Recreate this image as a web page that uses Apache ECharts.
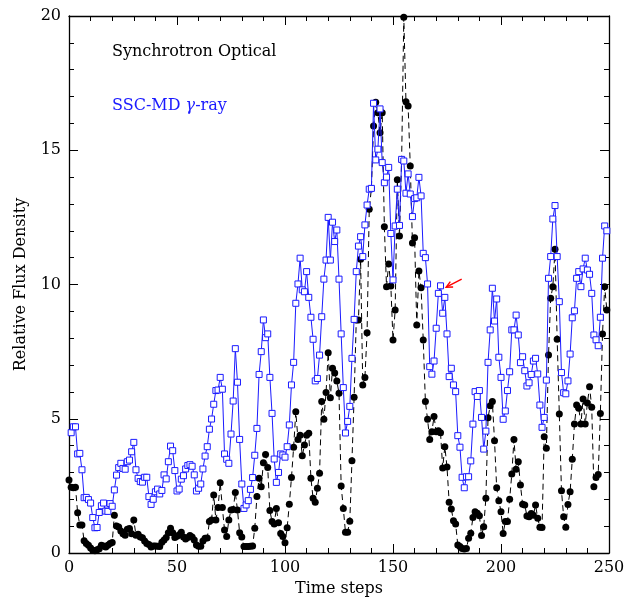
<!DOCTYPE html>
<html>
<head>
<meta charset="utf-8">
<script src="https://cdn.jsdelivr.net/npm/echarts@6/dist/echarts.min.js"></script>
<style>html,body{margin:0;padding:0;background:#fff}#c{width:626px;height:597px}</style>
</head>
<body>
<div id="c"></div>
<script>
// Time steps axis ticks
const xTicks = [0, 50, 100, 150, 200, 250];
const yTicks = [0, 5, 10, 15, 20];

// Synchrotron Optical (black), step 0..249
const opticalValues = [
2.72,2.45,2.43,2.45,1.50,1.04,1.04,0.46,0.35,0.29,
0.19,0.10,0.08,0.12,0.16,0.29,0.26,0.22,0.29,0.35,
0.39,1.41,1.01,0.97,0.82,0.72,0.66,0.88,0.91,0.72,
1.23,0.66,0.70,0.60,0.57,0.45,0.35,0.32,0.22,0.26,
0.26,0.25,0.24,0.40,0.48,0.58,0.75,0.92,0.75,0.58,
0.62,0.68,0.77,0.60,0.52,0.58,0.65,0.60,0.48,0.30,
0.25,0.25,0.45,0.55,0.56,1.17,1.23,2.16,1.23,1.69,
2.62,1.69,0.86,0.61,1.23,1.60,1.62,2.25,1.60,0.75,
0.60,0.24,0.24,0.24,0.25,0.26,0.92,2.10,2.78,2.47,
3.36,3.67,3.18,1.58,1.17,1.08,1.66,1.13,0.73,0.61,
0.38,0.94,1.82,2.81,3.94,5.26,4.23,4.39,3.62,4.02,
4.39,4.46,2.78,2.04,1.89,2.41,2.97,5.64,4.98,5.98,
7.46,5.78,6.88,6.70,6.41,5.95,2.50,1.66,0.77,0.77,
1.18,3.44,5.80,8.68,8.68,10.94,6.26,6.54,8.20,12.80,
13.58,15.90,16.79,16.40,15.65,16.40,12.15,9.92,10.76,9.94,
7.93,9.05,13.90,11.81,14.64,19.95,16.81,16.65,14.41,11.55,
11.74,8.49,10.50,9.88,7.93,5.64,4.98,4.23,4.52,5.08,
4.52,4.55,4.48,3.17,3.96,3.20,1.89,1.64,1.20,1.08,
0.30,0.24,0.17,0.15,0.17,0.55,0.74,1.32,1.54,1.48,
1.39,0.65,0.98,2.04,5.04,5.48,5.64,4.18,2.43,1.95,
1.54,0.73,1.17,1.17,2.00,2.94,4.23,3.12,3.40,2.53,
1.82,1.79,1.38,1.35,1.47,1.41,1.79,1.29,0.96,0.95,
4.33,3.90,7.37,9.49,9.92,11.31,7.96,5.18,2.32,1.35,
0.96,1.81,2.28,3.49,4.80,5.51,5.39,4.80,5.74,4.80,
5.59,6.19,5.43,2.47,2.81,2.92,5.20,8.16,9.92,9.05
];

// SSC-MD gamma-ray (blue), step 0..249 (no point at step 0)
const gammaValues = [
null,4.48,4.70,4.70,3.69,3.71,3.10,2.06,2.07,1.99,
1.86,1.32,0.94,0.95,1.51,1.76,1.86,1.56,1.55,1.84,
1.74,2.35,2.90,3.18,3.34,3.15,3.12,3.40,3.46,3.77,
4.12,3.10,2.78,2.66,2.64,2.82,2.82,2.10,1.81,2.00,
2.28,2.38,2.20,2.33,2.91,2.76,3.40,3.98,3.81,3.07,
2.31,2.38,2.75,2.88,3.13,3.26,3.29,3.23,2.91,2.31,
2.41,2.57,3.13,3.61,3.96,4.61,4.99,5.54,6.05,6.07,
6.54,6.10,3.69,3.49,3.34,4.43,5.66,7.61,6.36,4.23,
2.57,1.66,1.79,1.95,2.37,2.81,3.64,4.64,6.65,7.50,
8.68,8.02,8.16,6.54,5.20,3.50,2.63,3.00,3.69,3.65,
3.57,3.96,4.77,6.26,7.10,9.30,10.02,10.98,9.80,9.73,
10.48,9.52,8.78,7.96,6.41,6.50,7.37,8.80,10.20,10.91,
12.50,10.91,12.32,11.60,12.03,10.20,8.16,6.16,4.47,4.90,
5.46,7.25,8.70,10.48,11.43,11.78,11.04,12.22,12.96,13.55,
13.58,16.75,14.64,15.04,16.54,14.54,13.79,14.00,14.36,11.90,
10.17,12.18,13.55,12.20,14.66,14.60,13.40,14.12,13.37,12.53,
13.20,13.23,13.99,13.30,11.16,11.00,10.02,6.94,6.66,7.15,
8.37,9.67,9.95,8.93,9.52,8.16,6.57,6.88,6.26,6.01,
4.37,3.94,2.82,2.43,2.84,2.84,3.43,4.80,6.01,5.83,
6.05,5.05,3.87,4.54,7.10,8.31,9.86,8.64,9.46,7.29,
6.54,4.98,5.29,6.05,6.75,8.31,8.31,8.86,8.12,7.09,
7.31,6.79,6.22,6.34,6.65,7.15,7.25,6.67,5.51,4.68,
5.05,6.44,10.23,11.04,12.44,12.94,11.04,9.36,6.72,5.97,
5.93,6.41,7.41,8.76,9.02,10.23,10.48,9.92,10.58,10.98,
10.54,10.38,9.67,8.12,7.94,7.72,8.78,10.98,12.18,12.00
];

// red arrow pointing at the gamma-ray point near step 172: [tailX, tailY, headX, headY]
const arrowData = [[181.8, 10.2, 174.6, 9.9]];

const FONT = 'DejaVu Serif';
const BLUE = '#1a1aff';

function toPairs(arr) {
  const out = [];
  arr.forEach((v, i) => { if (v !== null) out.push([i, v]); });
  return out;
}

const chart = echarts.init(document.getElementById('c'), null, {renderer: 'canvas'});

function xAxisDef(pos, showLabel) {
  return {
    type: 'value', position: pos, min: xTicks[0], max: xTicks[xTicks.length - 1],
    interval: xTicks[1] - xTicks[0],
    axisLine: {show: true, onZero: false, lineStyle: {color: '#000', width: 1.3}},
    axisTick: {show: true, inside: true, length: 9, lineStyle: {color: '#000', width: 1}},
    minorTick: {show: true, splitNumber: 5, length: 5, lineStyle: {color: '#000', width: 1}},
    splitLine: {show: false},
    axisLabel: {show: showLabel, color: '#000', fontFamily: FONT, fontSize: 16, margin: 7},
    name: showLabel ? 'Time steps' : '',
    nameLocation: 'middle', nameGap: 28,
    nameTextStyle: {color: '#000', fontFamily: FONT, fontSize: 16}
  };
}
function yAxisDef(pos, showLabel) {
  return {
    type: 'value', position: pos, min: yTicks[0], max: yTicks[yTicks.length - 1],
    interval: yTicks[1] - yTicks[0],
    axisLine: {show: true, onZero: false, lineStyle: {color: '#000', width: 1.3}},
    axisTick: {show: true, inside: true, length: 9, lineStyle: {color: '#000', width: 1}},
    minorTick: {show: true, splitNumber: 5, length: 5, lineStyle: {color: '#000', width: 1}},
    splitLine: {show: false},
    axisLabel: {show: showLabel, color: '#000', fontFamily: FONT, fontSize: 16, margin: 8},
    name: showLabel ? 'Relative Flux Density' : '',
    nameLocation: 'middle', nameGap: 40, nameRotate: 90,
    nameTextStyle: {color: '#000', fontFamily: FONT, fontSize: 16}
  };
}

function renderArrow(params, api) {
  const p0 = api.coord([api.value(0), api.value(1)]);
  const p1 = api.coord([api.value(2), api.value(3)]);
  const ang = Math.atan2(p1[1] - p0[1], p1[0] - p0[0]);
  const L = 7, a = Math.PI / 7;
  const h1 = [p1[0] - L * Math.cos(ang - a), p1[1] - L * Math.sin(ang - a)];
  const h2 = [p1[0] - L * Math.cos(ang + a), p1[1] - L * Math.sin(ang + a)];
  const st = {stroke: '#ff0000', lineWidth: 1.4, fill: null};
  return {
    type: 'group',
    children: [
      {type: 'line', shape: {x1: p0[0], y1: p0[1], x2: p1[0], y2: p1[1]}, style: st},
      {type: 'polyline', shape: {points: [h1, p1, h2]}, style: st}
    ]
  };
}

chart.setOption({
  animation: false,
  backgroundColor: '#fff',
  grid: {left: 69, right: 17, top: 16, bottom: 44, containLabel: false, outerBoundsMode: 'none'},
  xAxis: [xAxisDef('bottom', true), xAxisDef('top', false)],
  yAxis: [yAxisDef('left', true), yAxisDef('right', false)],
  series: [
    {
      name: 'Synchrotron Optical', type: 'line', xAxisIndex: 0, yAxisIndex: 0,
      data: toPairs(opticalValues),
      symbol: 'circle', symbolSize: 7,
      itemStyle: {color: '#000'},
      lineStyle: {color: '#000', width: 1, type: [6, 4]},
      z: 2
    },
    {
      name: 'SSC-MD γ-ray', type: 'line', xAxisIndex: 0, yAxisIndex: 0,
      data: toPairs(gammaValues),
      symbol: 'rect', symbolSize: 6,
      itemStyle: {color: '#fff', borderColor: BLUE, borderWidth: 1},
      lineStyle: {color: BLUE, width: 1},
      z: 3
    },
    {
      type: 'custom', xAxisIndex: 0, yAxisIndex: 0,
      renderItem: renderArrow, data: arrowData, silent: true, z: 5
    }
  ],
  graphic: [
    {type: 'text', left: 112, top: 44,
     style: {text: 'Synchrotron Optical', fill: '#000', font: '16px "DejaVu Serif"'}},
    {type: 'text', left: 112, top: 98,
     style: {text: 'SSC-MD {g|γ}-ray', fill: BLUE, font: '16px "DejaVu Serif"',
             rich: {g: {fill: BLUE, fontStyle: 'italic', fontFamily: 'DejaVu Serif', fontSize: 16}}}}
  ]
});
</script>
</body>
</html>
